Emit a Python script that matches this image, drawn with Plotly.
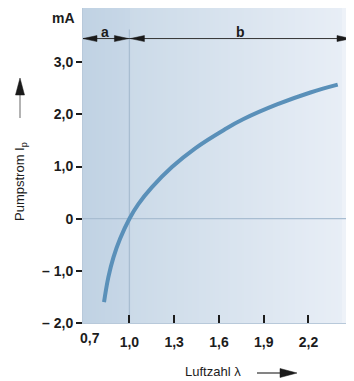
import plotly.graph_objects as go
import numpy as np

# ---- data ----
lambda_vals = [0.830, 0.859, 0.893, 0.938, 1.0, 1.060, 1.150, 1.285, 1.441, 1.638, 1.765, 1.989, 2.213, 2.396]
pump_current = [-1.60, -1.12, -0.74, -0.38, 0.0, 0.28, 0.60, 0.99, 1.35, 1.71, 1.91, 2.19, 2.42, 2.57]

x_tickvals = [1.0, 1.3, 1.6, 1.9, 2.2]
x_ticktext = ["1,0", "1,3", "1,6", "1,9", "2,2"]
y_tickvals = [-2, -1, 0, 1, 2, 3]
y_ticktext = ["\u2013 2,0", "\u2013 1,0", "0", "1,0", "2,0", "3,0"]

X_MIN, X_MAX = 0.689, 2.485
Y_MIN, Y_MAX = -2.0, 4.04
REGION_SPLIT = 1.0
ARROW_Y = 3.454

FONT = "Liberation Sans, Arial, sans-serif"
DARK = "#1c1c1c"


def hex2rgb(h):
    h = h.lstrip("#")
    return np.array([int(h[i:i + 2], 16) for i in (0, 2, 4)], dtype=float)


def lerp(c1, c2, t):
    c = hex2rgb(c1) * (1 - t) + hex2rgb(c2) * t
    return "rgb(%d,%d,%d)" % tuple(np.round(c))


def bg_color(x):
    if x < REGION_SPLIT:
        t = (x - X_MIN) / (REGION_SPLIT - X_MIN)
        return lerp("#c0d2e3", "#c7d7e7", t)
    if x < 2.43:
        t = (x - REGION_SPLIT) / (2.43 - REGION_SPLIT)
        return lerp("#cbdae8", "#e8eef6", t)
    return "#eef2f8"


N = 120
edges = np.linspace(X_MIN, X_MAX, N + 1)
centers = (edges[:-1] + edges[1:]) / 2
colors = [bg_color(c) for c in centers]
colorscale = [[i / (N - 1), colors[i]] for i in range(N)]
z = [list(range(N)), list(range(N))]

fig = go.Figure()
fig.add_trace(go.Heatmap(
    x=edges, y=[Y_MIN - 1, (Y_MIN + Y_MAX) / 2, Y_MAX + 1], z=z,
    colorscale=colorscale, showscale=False, hoverinfo="skip", zsmooth=False,
))
# reference lines
fig.add_trace(go.Scatter(x=[X_MIN, X_MAX], y=[0, 0], mode="lines",
                         line=dict(color="#a8bdd1", width=1.3), hoverinfo="skip", showlegend=False))
fig.add_trace(go.Scatter(x=[REGION_SPLIT, REGION_SPLIT], y=[Y_MIN, 3.63], mode="lines",
                         line=dict(color="#a8bdd1", width=1.3), hoverinfo="skip", showlegend=False))
# curve
fig.add_trace(go.Scatter(x=lambda_vals, y=pump_current, mode="lines",
                         line=dict(color="#5a90b9", width=4, shape="spline", smoothing=1.2),
                         hoverinfo="skip", showlegend=False))

shapes = []
# a/b dimension line
shapes.append(dict(type="line", xref="x", yref="y", x0=X_MIN, x1=X_MAX, y0=ARROW_Y, y1=ARROW_Y,
                   line=dict(color="#333333", width=1)))


def head(xanchor, yanchor, path, xref="x", yref="y"):
    return dict(type="path", xref=xref, yref=yref, xsizemode="pixel", ysizemode="pixel",
                xanchor=xanchor, yanchor=yanchor, path=path,
                fillcolor="#1a1a1a", line=dict(color="#1a1a1a", width=0.5))


shapes.append(head(X_MIN, ARROW_Y, "M0,0 L14,3 L14,-3 Z"))
shapes.append(head(REGION_SPLIT, ARROW_Y, "M-1,0 L-15,3 L-15,-3 Z"))
shapes.append(head(REGION_SPLIT, ARROW_Y, "M1,0 L15,3 L15,-3 Z"))
shapes.append(head(X_MAX, ARROW_Y, "M0,0 L-14,3 L-14,-3 Z"))

# axis-label arrows (paper coords)
yl_x = (20 - 83) / 268
yl_y = (323 - 78) / 315
shapes.append(dict(type="line", xref="paper", yref="paper", xsizemode="pixel", ysizemode="pixel",
                   xanchor=yl_x, yanchor=yl_y, x0=0, x1=0, y0=-14, y1=-40,
                   line=dict(color="#8a8a8a", width=1.3)))
shapes.append(head(yl_x, yl_y, "M0,0 L-4.5,-17 L4.5,-17 Z", xref="paper", yref="paper"))

xl_x = (297 - 83) / 268
xl_y = (323 - 373) / 315
shapes.append(dict(type="line", xref="paper", yref="paper", xsizemode="pixel", ysizemode="pixel",
                   xanchor=xl_x, yanchor=xl_y, x0=-14, x1=-40, y0=0, y1=0,
                   line=dict(color="#333333", width=1.2)))
shapes.append(head(xl_x, xl_y, "M0,0 L-17,4.5 L-17,-4.5 Z", xref="paper", yref="paper"))

annotations = [
    dict(text="mA", xref="paper", yref="paper", x=(77 - 83) / 268, y=(323 - 18) / 315,
         xanchor="right", yanchor="middle", showarrow=False,
         font=dict(family=FONT, size=14, color=DARK, weight="bold")),
    dict(text="a", xref="x", yref="paper", x=(X_MIN + REGION_SPLIT) / 2 - 0.005, y=(323 - 32) / 315,
         xanchor="center", yanchor="middle", showarrow=False,
         font=dict(family=FONT, size=14, color=DARK, weight="bold")),
    dict(text="b", xref="x", yref="paper", x=(REGION_SPLIT + X_MAX) / 2 + 0.005, y=(323 - 32) / 315,
         xanchor="center", yanchor="middle", showarrow=False,
         font=dict(family=FONT, size=14, color=DARK, weight="bold")),
    dict(text="0,7", xref="x", yref="paper", x=0.734, y=(323 - 338) / 315,
         xanchor="center", yanchor="middle", showarrow=False,
         font=dict(family=FONT, size=14, color=DARK, weight="bold")),
    dict(text="Pumpstrom I<sub>p</sub>", xref="paper", yref="paper", x=(20 - 83) / 268,
         y=(323 - 182) / 315, xanchor="center", yanchor="middle", textangle=-90, showarrow=False,
         font=dict(family=FONT, size=13, color=DARK)),
    dict(text="Luftzahl \u03bb", xref="paper", yref="paper", x=(183 - 83) / 268,
         y=(323 - 372) / 315, xanchor="left", yanchor="middle", showarrow=False,
         font=dict(family=FONT, size=13, color=DARK)),
]

# the page body has an 8px margin, so the figure is sized/offset to compensate
fig.update_layout(
    width=346, height=373,
    margin=dict(l=75, r=3, t=0, b=58),
    paper_bgcolor="white", plot_bgcolor="#dde6f0",
    showlegend=False,
    shapes=shapes, annotations=annotations,
    xaxis=dict(range=[X_MIN, X_MAX], tickvals=x_tickvals, ticktext=x_ticktext,
               ticks="inside", ticklen=8, tickwidth=2, tickcolor=DARK,
               showgrid=False, zeroline=False, showline=True, linecolor="#b8c9da", linewidth=1, mirror=True,
               tickfont=dict(family=FONT, size=14, color=DARK, weight="bold"), ticklabelstandoff=6,
               fixedrange=True, automargin=False),
    yaxis=dict(range=[Y_MIN, Y_MAX], tickvals=y_tickvals, ticktext=y_ticktext,
               ticks="outside", ticklen=6, tickwidth=2, tickcolor=DARK,
               showgrid=False, zeroline=False, showline=True, linecolor="#b8c9da", linewidth=1, mirror=True,
               tickfont=dict(family=FONT, size=14, color=DARK, weight="bold"),
               fixedrange=True, automargin=False),
)

fig.write_html("out.html")
